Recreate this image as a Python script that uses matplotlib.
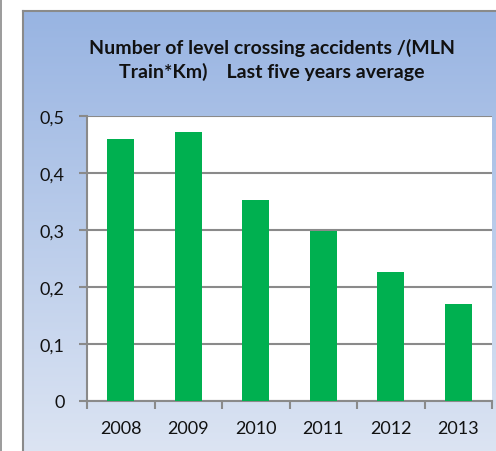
import numpy as np
import matplotlib
matplotlib.use("Agg")
import matplotlib.pyplot as plt
from matplotlib.lines import Line2D

years = ["2008", "2009", "2010", "2011", "2012", "2013"]
values = [0.46, 0.473, 0.352, 0.299, 0.226, 0.170]
ytick_values = [0, 0.1, 0.2, 0.3, 0.4, 0.5]
ytick_labels = ["0", "0,1", "0,2", "0,3", "0,4", "0,5"]
title = "Number of level crossing accidents /(MLN\nTrain*Km)    Last five years average"

W, H = 496, 452
fig = plt.figure(figsize=(W / 100, H / 100), dpi=100)
fig.patch.set_facecolor("white")

# background box with gradient
bx0, by_top = 23, 12
bg = fig.add_axes([bx0 / W, -0.02, 1 - bx0 / W + 0.02, 1 - by_top / H + 0.02])
grad = np.linspace(0, 1, 256).reshape(-1, 1)
top = np.array([0x98, 0xb4, 0xe2]) / 255
bot = np.array([0xdd, 0xe5, 0xf3]) / 255
img = top[None, None, :] * (1 - grad[:, :, None]) + bot[None, None, :] * grad[:, :, None]
bg.imshow(img, aspect="auto", extent=[0, 1, 0, 1], origin="upper")
bg.set_xticks([]); bg.set_yticks([])
for s in ["right", "bottom"]:
    bg.spines[s].set_visible(False)
for s in ["left", "top"]:
    bg.spines[s].set_color("#8a8a8a")
    bg.spines[s].set_linewidth(1.5)

# left thin line
fig.add_artist(Line2D([0.8 / W, 0.8 / W], [0, 1], transform=fig.transFigure,
                      color="#8a8a8a", lw=1.2))

ax = fig.add_axes([87 / W, (H - 401.7) / H, 405 / W, (401.7 - 117.3) / H])
ax.set_facecolor("white")
x = np.arange(len(years))
ax.bar(x, values, width=0.4, color="#00b050", zorder=3)
ax.set_xlim(-0.5, len(years) - 0.5)
ax.set_ylim(0, 0.5)
ax.set_yticks(ytick_values)
ax.set_yticklabels(ytick_labels)
ax.set_xticks(x)
ax.set_xticklabels(years)
ax.set_xticks(np.arange(-0.5, len(years), 1), minor=True)
ax.tick_params(axis="x", which="major", length=0, pad=14, labelsize=13, labelcolor="#111111")
ax.tick_params(axis="x", which="minor", length=6, width=1.5, color="#8a8a8a", direction="out")
ax.tick_params(axis="y", length=6, width=1.5, color="#8a8a8a", pad=10, labelsize=13, labelcolor="#111111")
ax.yaxis.grid(True, color="#8a8a8a", lw=1.5, zorder=1)
ax.set_axisbelow(True)
for s in ["left", "bottom"]:
    ax.spines[s].set_color("#8a8a8a")
    ax.spines[s].set_linewidth(1.5)
ax.spines["top"].set_visible(False)
ax.spines["right"].set_visible(False)
for lbl in ax.get_xticklabels() + ax.get_yticklabels():
    lbl.set_family(["Lato", "DejaVu Sans"])

fig.text(272 / W, 1 - 60 / H, title, ha="center", va="center", fontsize=14,
         fontweight="bold", family=["Lato", "DejaVu Sans"], linespacing=1.35, color="#111111")

fig.savefig("out.png", dpi=100)
